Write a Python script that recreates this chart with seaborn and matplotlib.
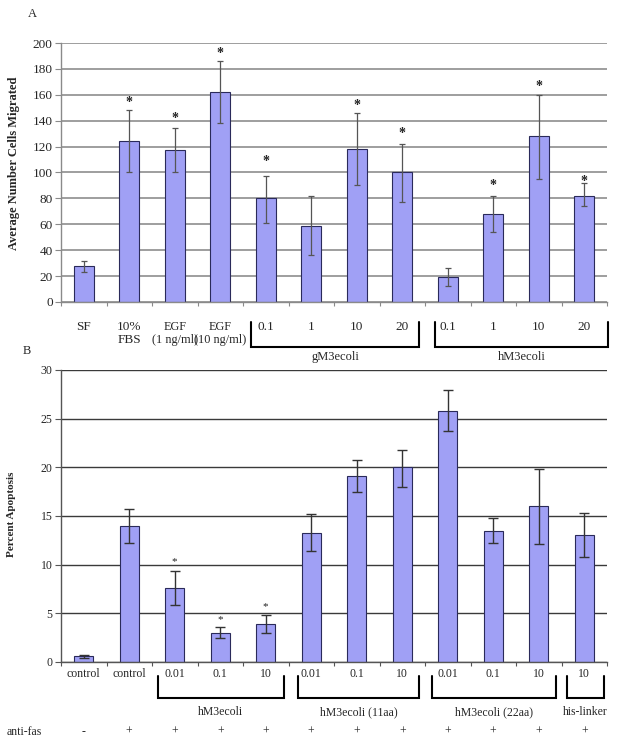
import numpy as np
import pandas as pd
import matplotlib
matplotlib.use("Agg")
import matplotlib.pyplot as plt
import seaborn as sns
from matplotlib.transforms import blended_transform_factory

# ---------------- data ----------------
# Panel A
a_keys = ["SF", "FBS", "EGF1", "EGF10", "g0.1", "g1", "g10", "g20", "h0.1", "h1", "h10", "h20"]
a_labels = ["SF", "10%\nFBS", "EGF\n(1 ng/ml)", "EGF\n(10 ng/ml)", "0.1", "1", "10", "20",
            "0.1", "1", "10", "20"]
a_values = [28, 124, 117, 162, 80, 59, 118, 100, 19, 68, 128, 82]
a_err_low = [23, 100, 100, 138, 61, 36, 90, 77, 12, 54, 95, 74]
a_err_high = [32, 148, 134, 186, 97, 82, 146, 122, 26, 82, 160, 92]
a_star_y = [None, 157, 145, 195, 112, None, 155, 133, None, 93, 170, 96]
a_groups = ["gM3ecoli", "hM3ecoli"]
a_group_span = [(3.68, 7.37), (7.72, 11.52)]
a_yticks = [0, 20, 40, 60, 80, 100, 120, 140, 160, 180, 200]

# Panel B
b_keys = ["c0", "c1", "h0.01", "h0.1", "h10", "a0.01", "a0.1", "a10", "b0.01", "b0.1", "b10", "his10"]
b_labels = ["control", "control", "0.01", "0.1", "10", "0.01", "0.1", "10", "0.01", "0.1", "10", "10"]
b_values = [0.6, 14.0, 7.6, 3.0, 3.9, 13.3, 19.1, 20.0, 25.8, 13.5, 16.0, 13.0]
b_err_low = [0.45, 12.2, 5.9, 2.5, 3.0, 11.4, 17.5, 18.0, 23.7, 12.2, 12.1, 10.8]
b_err_high = [0.7, 15.7, 9.4, 3.6, 4.8, 15.2, 20.8, 21.8, 27.9, 14.8, 19.8, 15.3]
b_star_y = [None, None, 10.6, 4.6, 6.0, None, None, None, None, None, None, None]
b_groups = ["hM3ecoli", "hM3ecoli (11aa)", "hM3ecoli (22aa)", "his-linker"]
b_group_span = [(1.63, 4.40), (4.71, 7.37), (7.65, 10.38), (10.62, 11.43)]
b_antifas = ["-", "+", "+", "+", "+", "+", "+", "+", "+", "+", "+", "+"]
b_yticks = [0, 5, 10, 15, 20, 25, 30]

# ---------------- style ----------------
sns.set_theme(style="white")
plt.rcParams['font.family'] = ['Liberation Serif', 'DejaVu Serif']

BAR = "#a0a0f5"
EDGE = "#2a2a5a"

W, H = 619, 743
fig = plt.figure(figsize=(W / 100, H / 100), dpi=100)


def px_axes(l, t, r, b):
    return fig.add_axes([l / W, 1 - b / H, (r - l) / W, (b - t) / H])


def style_axes(ax, gridcolor, gridlw, yticks, ylim, tickfs, spinecol):
    ax.set_xlim(-0.5, 11.5)
    ax.set_ylim(*ylim)
    ax.set_yticks(yticks)
    ax.yaxis.grid(True, color=gridcolor, lw=gridlw)
    ax.xaxis.grid(False)
    ax.set_axisbelow(True)
    for s in ["top", "right"]:
        ax.spines[s].set_visible(False)
    for s in ["left", "bottom"]:
        ax.spines[s].set_color(spinecol)
        ax.spines[s].set_linewidth(1.0)
    ax.set_xticks(np.arange(-0.5, 12, 1), minor=True)
    ax.tick_params(axis="x", which="minor", length=3, color=spinecol, width=0.8, bottom=True)
    ax.tick_params(axis="y", which="major", length=4, color=spinecol, width=0.8, left=True,
                   labelsize=tickfs, pad=2)
    ax.set_xlabel("")
    ax.set_ylabel("")


# ---------------- Panel A ----------------
axA = px_axes(61, 43, 607, 302)
dfA = pd.DataFrame({"key": a_keys, "value": a_values})
sns.barplot(data=dfA, x="key", y="value", color=BAR, edgecolor=EDGE, linewidth=0.8,
            width=0.43, errorbar=None, saturation=1, ax=axA)
xa = np.arange(len(a_values))
va = np.array(a_values, float)
axA.errorbar(xa, va, yerr=[va - np.array(a_err_low), np.array(a_err_high) - va],
             fmt="none", ecolor="#555555", elinewidth=0.9, capsize=2, capthick=0.9, zorder=3)
for i, sy in enumerate(a_star_y):
    if sy is not None:
        axA.annotate("*", (i, sy), xytext=(0, -3), textcoords="offset points",
                     ha="center", va="center", fontsize=10, fontweight="bold",
                     color="#222222")
style_axes(axA, "#969696", 1.3, a_yticks, (0, 200), 9.5, "#8a8a8a")
axA.set_xticks(xa)
axA.set_xticklabels(a_labels, fontsize=9.5, linespacing=1.05)
axA.tick_params(axis="x", which="major", length=0, pad=14)
for t in axA.get_xticklabels():
    t.set_verticalalignment("top")
    if "ng/ml" in t.get_text():
        t.set_fontsize(8.8)

trA = blended_transform_factory(axA.transData, axA.transAxes)
for name, (x0, x1) in zip(a_groups, a_group_span):
    y_top = -20 / 259
    y_bot = -45 / 259
    axA.plot([x0, x0, x1, x1], [y_top, y_bot, y_bot, y_top], color="black", lw=1.5,
             transform=trA, clip_on=False, solid_joinstyle="miter")
    axA.text((x0 + x1) / 2, -55 / 259, name, transform=trA, ha="center", va="center",
             fontsize=9)

fig.text(14 / W, 1 - 163 / H, "Average Number Cells Migrated", rotation=90, ha="center",
         va="center", fontsize=9, fontweight="bold")
fig.text(32 / W, 1 - 14 / H, "A", ha="center", va="center", fontsize=9)

# ---------------- Panel B ----------------
axB = px_axes(61, 370, 607, 662)
dfB = pd.DataFrame({"key": b_keys, "value": b_values})
sns.barplot(data=dfB, x="key", y="value", color=BAR, edgecolor=EDGE, linewidth=0.8,
            width=0.42, errorbar=None, saturation=1, ax=axB)
xb = np.arange(len(b_values))
vb = np.array(b_values, float)
axB.errorbar(xb, vb, yerr=[vb - np.array(b_err_low), np.array(b_err_high) - vb],
             fmt="none", ecolor="#333333", elinewidth=1.0, capsize=3.5, capthick=1.0, zorder=3)
for i, sy in enumerate(b_star_y):
    if sy is not None:
        axB.annotate("*", (i, sy), xytext=(0, -2), textcoords="offset points",
                     ha="center", va="center", fontsize=8, color="#222222")
style_axes(axB, "#3a3a3a", 1.0, b_yticks, (0, 30), 8.5, "#555555")
axB.set_xticks(xb)
axB.set_xticklabels(b_labels, fontsize=8.5)
axB.tick_params(axis="x", which="major", length=0, pad=4)

trB = blended_transform_factory(axB.transData, axB.transAxes)
for name, (x0, x1) in zip(b_groups, b_group_span):
    y_top = -14 / 292
    y_bot = -36 / 292
    axB.plot([x0, x0, x1, x1], [y_top, y_bot, y_bot, y_top], color="black", lw=1.5,
             transform=trB, clip_on=False, solid_joinstyle="miter")
    axB.text((x0 + x1) / 2, -50 / 292, name, transform=trB, ha="center", va="center",
             fontsize=8.5)
for i, s in enumerate(b_antifas):
    axB.text(i, -70 / 292, s, transform=trB, ha="center", va="center", fontsize=8.5)
fig.text(7 / W, 1 - 732 / H, "anti-fas", ha="left", va="center", fontsize=8.5)

fig.text(12 / W, 1 - 514 / H, "Percent Apoptosis", rotation=90, ha="center", va="center",
         fontsize=8, fontweight="bold")
fig.text(27 / W, 1 - 351 / H, "B", ha="center", va="center", fontsize=9)

fig.savefig("out.png", dpi=100)
